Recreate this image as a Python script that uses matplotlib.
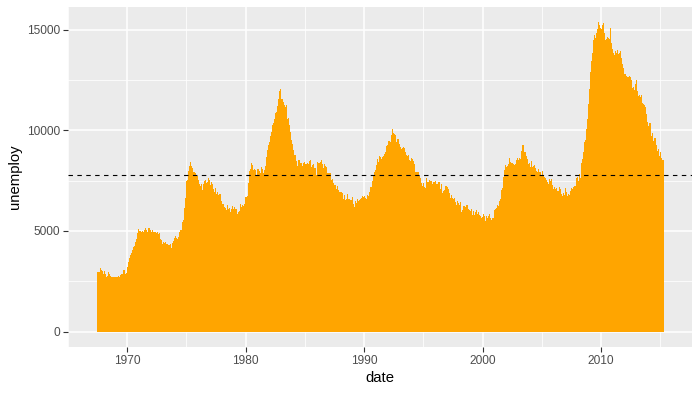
import numpy as np
import pandas as pd
import matplotlib
matplotlib.use("Agg")
import matplotlib.pyplot as plt
import matplotlib.dates as mdates

# Monthly unemployment (thousands), Jul 1967 - Apr 2015
start_date = "1967-07-01"
unemploy = [
    2944, 2945, 2958, 3143, 3066, 3018,
    2878, 3001, 2877, 2709, 2740, 2938, 2883, 2768, 2686, 2689, 2715, 2685,
    2718, 2692, 2712, 2758, 2713, 2816, 2868, 2856, 3040, 3049, 2856, 2884,
    3201, 3453, 3635, 3797, 3919, 4071, 4175, 4256, 4456, 4591, 4898, 5076,
    4986, 4903, 4987, 4959, 4996, 4949, 5035, 5134, 5042, 4954, 5161, 5154,
    5019, 4928, 5038, 4959, 4922, 4923, 4913, 4939, 4849, 4875, 4602, 4543,
    4326, 4452, 4394, 4459, 4329, 4363, 4305, 4305, 4350, 4144, 4396, 4489,
    4644, 4731, 4634, 4618, 4705, 4927, 5063, 5022, 5437, 5523, 6140, 6636,
    7501, 7520, 7978, 8210, 8433, 8220, 8127, 7928, 7923, 7897, 7794, 7744,
    7534, 7326, 7230, 7330, 7053, 7322, 7490, 7518, 7380, 7430, 7620, 7545,
    7280, 7443, 7307, 7059, 6911, 7134, 6829, 6925, 6751, 6763, 6815, 6386,
    6489, 6318, 6337, 6180, 6127, 6028, 6309, 6080, 6125, 5947, 6077, 6228,
    6109, 6173, 6109, 6069, 5840, 5959, 5996, 6320, 6190, 6296, 6238, 6325,
    6683, 6702, 6729, 7358, 7984, 8098, 8363, 8281, 8021, 8088, 8023, 7718,
    8071, 8051, 7982, 7869, 8174, 8098, 7863, 8036, 8230, 8646, 9029, 9267,
    9397, 9705, 9895, 10244, 10335, 10538, 10849, 10881, 11217, 11529, 11938, 12051,
    11534, 11545, 11408, 11268, 11154, 11246, 10548, 10623, 10282, 9887, 9499, 9331,
    9008, 8791, 8746, 8762, 8456, 8226, 8537, 8519, 8367, 8381, 8198, 8358,
    8423, 8321, 8339, 8395, 8302, 8460, 8513, 8196, 8248, 8298, 8128, 8138,
    7795, 8402, 8383, 8364, 8439, 8508, 8319, 8135, 8310, 8243, 8159, 7883,
    7892, 7865, 7862, 7542, 7574, 7398, 7268, 7261, 7102, 7227, 7035, 6936,
    6953, 6929, 6876, 6601, 6779, 6546, 6605, 6843, 6604, 6568, 6537, 6518,
    6682, 6359, 6205, 6468, 6375, 6577, 6495, 6511, 6590, 6630, 6725, 6667,
    6752, 6651, 6598, 6797, 6742, 6590, 6922, 7188, 7368, 7459, 7764, 7901,
    8015, 8265, 8586, 8439, 8736, 8692, 8586, 8666, 8722, 8842, 8931, 9198,
    9283, 9454, 9460, 9415, 9744, 10040, 9850, 9787, 9781, 9398, 9565, 9557,
    9325, 9183, 9056, 9110, 9149, 9121, 8930, 8763, 8714, 8750, 8542, 8477,
    8630, 8583, 8470, 8331, 7915, 7927, 7946, 7933, 7734, 7632, 7375, 7230,
    7375, 7187, 7153, 7645, 7430, 7427, 7527, 7484, 7478, 7328, 7426, 7423,
    7491, 7313, 7318, 7415, 7423, 7095, 7337, 6882, 6979, 7031, 7236, 7253,
    7158, 7102, 7000, 6873, 6655, 6799, 6655, 6608, 6656, 6454, 6308, 6476,
    6368, 6306, 6422, 5941, 6047, 6212, 6259, 6179, 6300, 6280, 6100, 6032,
    5976, 6111, 5783, 6004, 5796, 5951, 6025, 5838, 5915, 5778, 5716, 5653,
    5708, 5858, 5733, 5481, 5758, 5651, 5747, 5853, 5625, 5534, 5639, 5634,
    6023, 6089, 6141, 6271, 6226, 6484, 6583, 7042, 7142, 7694, 8003, 8258,
    8182, 8215, 8304, 8599, 8399, 8393, 8390, 8304, 8251, 8307, 8520, 8640,
    8520, 8618, 8588, 8842, 8957, 9266, 9011, 8896, 8921, 8732, 8576, 8317,
    8370, 8167, 8491, 8170, 8212, 8286, 8136, 7990, 7927, 8061, 7932, 7934,
    7784, 7980, 7737, 7672, 7651, 7524, 7406, 7345, 7553, 7453, 7566, 7279,
    7064, 7184, 7072, 7120, 6980, 7001, 7175, 7091, 6847, 6727, 6872, 6762,
    7116, 6927, 6731, 6850, 6766, 6979, 7149, 7067, 7170, 7237, 7240, 7645,
    7685, 7497, 7822, 7637, 8395, 8575, 8937, 9438, 9494, 10074, 10538, 11286,
    12058, 12898, 13426, 13853, 14499, 14707, 14601, 14814, 15009, 15352, 15219, 15098,
    15046, 15113, 15202, 15325, 14849, 14474, 14512, 14648, 14579, 14516, 15081, 14348,
    14013, 13820, 13737, 13957, 13855, 13962, 13763, 13818, 13948, 13594, 13302, 13093,
    12797, 12813, 12713, 12646, 12660, 12692, 12656, 12471, 12115, 12124, 12005, 12298,
    12471, 11950, 11689, 11760, 11654, 11751, 11335, 11279, 11270, 11136, 10787, 10404,
    10202, 10349, 10380, 9702, 9859, 9460, 9608, 9599, 9262, 8990, 9090, 8717,
    8903, 8610, 8504, 8526,
]
dates = pd.date_range(start_date, periods=len(unemploy), freq="MS")
y_ticks = [0, 5000, 10000, 15000]
x_tick_years = [1970, 1980, 1990, 2000, 2010]

plt.rcParams["font.family"] = ["Liberation Sans", "DejaVu Sans"]

fig = plt.figure(figsize=(7.0, 3.94), dpi=100)
ax = fig.add_axes([68 / 700, 1 - 347 / 394, (692 - 68) / 700, (347 - 7) / 394])
ax.set_facecolor("#EBEBEB")

xnum = mdates.date2num(dates)
ax.bar(xnum, unemploy, width=31, color="#FFA500", linewidth=0, align="center", zorder=2)

mean_val = float(np.mean(unemploy))
ax.axhline(mean_val, color="black", linewidth=0.8, linestyle=(0, (4, 4)), zorder=3)

# limits with ggplot-like 5% expansion
x_lo, x_hi = xnum.min() - 15.5, xnum.max() + 15.5
xr = x_hi - x_lo
ax.set_xlim(x_lo - 0.05 * xr, x_hi + 0.05 * xr)
ymax = max(unemploy)
ax.set_ylim(-0.05 * ymax, ymax * 1.05)

major_x = [mdates.date2num(pd.Timestamp(f"{y}-01-01")) for y in x_tick_years]
minor_x = [mdates.date2num(pd.Timestamp(f"{y}-01-01")) for y in range(1965, 2020, 10)]
ax.set_xticks(major_x)
ax.set_xticklabels([str(y) for y in x_tick_years])
ax.set_xticks(minor_x, minor=True)
ax.set_yticks(y_ticks)
ax.set_yticklabels([str(v) for v in y_ticks])
ax.set_yticks([2500, 7500, 12500], minor=True)

ax.grid(which="major", color="white", linewidth=1.1, zorder=0)
ax.grid(which="minor", color="white", linewidth=0.55, zorder=0)
ax.set_axisbelow(True)
for s in ax.spines.values():
    s.set_visible(False)

ax.tick_params(which="major", length=3.5, width=0.8, color="#333333",
               labelcolor="#4D4D4D", labelsize=8.6, pad=2)
ax.tick_params(which="minor", length=0)

ax.set_xlabel("date", fontsize=10.7, color="black", labelpad=3)
ax.set_ylabel("unemploy", fontsize=10.7, color="black", labelpad=4)

fig.savefig("out.png", dpi=100)
